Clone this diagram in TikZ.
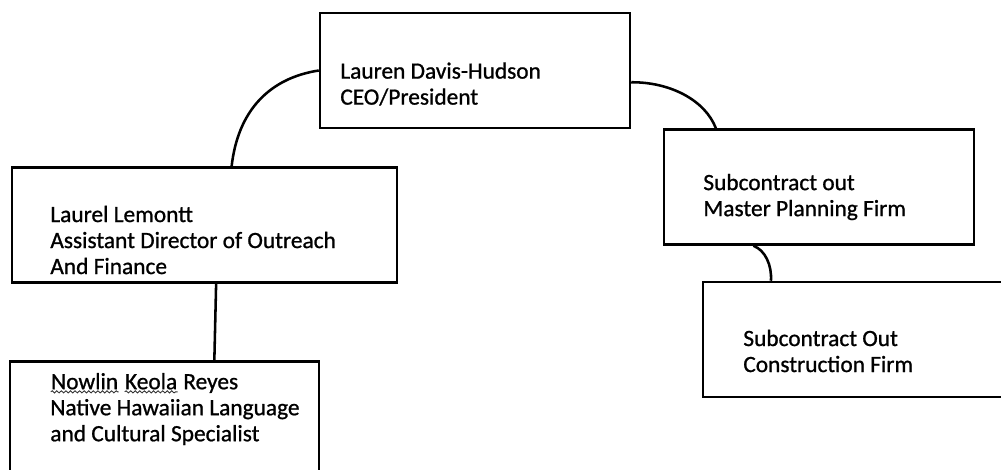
\documentclass[tikz,border=0pt]{standalone}
\usepackage{fontspec}
\setmainfont{Carlito}
\newfontfamily\orgfont{Carlito}[FakeBold=0.9]
\usetikzlibrary{positioning, calc, decorations.pathmorphing}
\tikzset{
  orgbox/.style={draw, line width=1.45pt, minimum height=2.3cm, inner sep=0pt},
  orgtext/.style={anchor=west, align=left, inner sep=0pt,
    font=\orgfont\fontsize{13.3}{14.8}\selectfont},
  link/.style={line width=1.45pt, draw=black},
  squigline/.style={decorate, decoration={snake, amplitude=0.6pt, segment length=2.6pt},
    line width=0.5pt, draw=black!80},
}
% wavy spell-check underline
\newcommand{\squig}[1]{\tikz[baseline=(sq.base)]{\node[inner sep=0pt] (sq) {#1};
  \draw[squigline] ([yshift=-1.2pt]sq.south west) -- ([yshift=-1.2pt]sq.south east);}}

\begin{document}
\begin{tikzpicture}[x=0.02cm, y=-0.02cm]
  \clip (0,0) rectangle (1001,470);

  % ---- Boxes -------------------------------------------------------------
  \node[orgbox, minimum width=6.2cm]  (ceo)    at (475,70.5)  {};
  \node[orgbox, minimum width=7.7cm]  (laurel) at (204.5,225) {};
  \node[orgbox, minimum width=6.2cm]  (master) at (819,187)   {};
  \node[orgbox, minimum width=6.24cm] (constr) at (859,339.5) {};
  \node[orgbox, minimum width=6.18cm] (nowlin) at (164.5,419) {};

  % ---- Texts -------------------------------------------------------------
  \node[orgtext] (ceotxt)    at (340,84)  {Lauren Davis-Hudson\\CEO/President};
  \node[orgtext] (laureltxt) at (50,240)  {Laurel Lemontt\\Assistant Director of Outreach\\And Finance};
  \node[orgtext] (mastertxt) at (703,197) {Subcontract out\\Master Planning Firm};
  \node[orgtext] (constrtxt) at (743,351) {Subcontract Out\\Construction Firm};
  \node[orgtext] (nowlintxt) at (50,409)  {\squig{Nowlin} \squig{Keola} Reyes\\Native Hawaiian Language\\and Cultural Specialist};

  % ---- Links -------------------------------------------------------------
  \draw[link] (ceo.west) .. controls (270,78) and (238,110)
        .. ($(laurel.north west)!0.57!(laurel.north east)$);
  \draw[link] ($(ceo.north east)!0.6!(ceo.south east)$) .. controls (670,82) and (705,100)
        .. ($(master.north west)!0.17!(master.north east)$);
  \draw[link] ($(master.south west)!0.29!(master.south east)$) .. controls (765,250) and (772,265)
        .. ($(constr.north west)!0.22!(constr.north east)$);
  \draw[link] ($(laurel.south west)!0.53!(laurel.south east)$)
        -- ($(nowlin.north west)!0.66!(nowlin.north east)$);

\end{tikzpicture}
\end{document}
